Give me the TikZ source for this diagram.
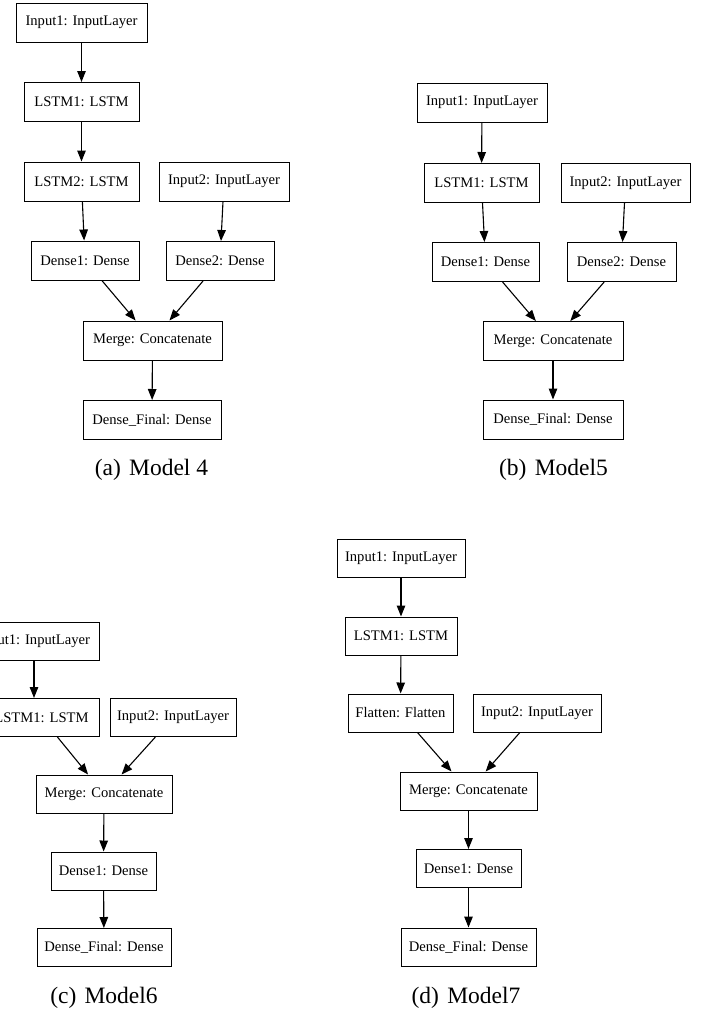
\documentclass[tikz,border=0pt]{standalone}
\usepackage{fontspec}
\setmainfont{Liberation Serif}
\usetikzlibrary{arrows.meta}
\tikzset{layer/.style={draw,line width=1pt,inner sep=0pt,minimum height=39pt,font=\fontsize{14.6}{17}\selectfont},
  flow/.style={-{Triangle[length=11pt,width=8.5pt]},line width=1.1pt},
  subcap/.style={font=\fontsize{23.5}{28}\selectfont}}
\begin{document}
\begin{tikzpicture}[x=1pt,y=-1pt]
\useasboundingbox (0,0) rectangle (706,1013);
\clip (0,0) rectangle (706,1013);
\node[layer,minimum width=131pt] (aIn1) at (81.5,22.5) {Input1: InputLayer};
\node[layer,minimum width=115pt] (aLstm1) at (81.5,102) {LSTM1: LSTM};
\node[layer,minimum width=115pt] (aLstm2) at (81.5,181.5) {LSTM2: LSTM};
\node[layer,minimum width=130pt] (aIn2) at (224,181.5) {Input2: InputLayer};
\node[layer,minimum width=108pt] (aDen1) at (85,260.5) {Dense1: Dense};
\node[layer,minimum width=108pt] (aDen2) at (220,261) {Dense2: Dense};
\node[layer,minimum width=139pt] (aMerge) at (152.5,340.5) {Merge: Concatenate};
\node[layer,minimum width=138pt] (aFinal) at (152,420) {Dense\_Final: Dense};
\draw[flow] (aIn1) -- (aLstm1);
\draw[flow] (aLstm1) -- (aLstm2);
\draw[flow] (aLstm2) -- (aDen1);
\draw[flow] (aIn2) -- (aDen2);
\draw[flow] (aDen1) -- (aMerge);
\draw[flow] (aDen2) -- (aMerge);
\draw[flow] (aMerge) -- (aFinal);
\node[subcap] (aCap) at (151.5,470) {(a)\hspace{0.35em}Model 4};
\node[layer,minimum width=130pt] (bIn1) at (482,102.5) {Input1: InputLayer};
\node[layer,minimum width=115pt] (bLstm1) at (481.5,183) {LSTM1: LSTM};
\node[layer,minimum width=129pt] (bIn2) at (625.5,183) {Input2: InputLayer};
\node[layer,minimum width=107pt] (bDen1) at (485.5,262) {Dense1: Dense};
\node[layer,minimum width=109pt] (bDen2) at (621.5,262) {Dense2: Dense};
\node[layer,minimum width=140pt] (bMerge) at (553,341) {Merge: Concatenate};
\node[layer,minimum width=140pt] (bFinal) at (553,419.5) {Dense\_Final: Dense};
\draw[flow] (bIn1) -- (bLstm1);
\draw[flow] (bLstm1) -- (bDen1);
\draw[flow] (bIn2) -- (bDen2);
\draw[flow] (bDen1) -- (bMerge);
\draw[flow] (bDen2) -- (bMerge);
\draw[flow] (bMerge) -- (bFinal);
\node[subcap] (bCap) at (553.5,470) {(b)\hspace{0.35em}Model5};
\begin{scope}[every node/.append style={font=\fontsize{14.2}{17}\selectfont}]
\node[layer,minimum width=130pt,minimum height=38pt] (cIn1) at (34,641) {Input1: InputLayer};
\node[layer,minimum width=115pt,minimum height=38pt] (cLstm1) at (41.5,717.5) {LSTM1: LSTM};
\node[layer,minimum width=126pt,minimum height=38pt] (cIn2) at (173,717.5) {Input2: InputLayer};
\node[layer,minimum width=136pt,minimum height=38pt] (cMerge) at (104,794) {Merge: Concatenate};
\node[layer,minimum width=105pt,minimum height=38pt] (cDen1) at (103.5,871) {Dense1: Dense};
\node[layer,minimum width=134pt,minimum height=38pt] (cFinal) at (104,947.5) {Dense\_Final: Dense};
\node[layer,minimum width=128pt,minimum height=38pt] (dIn1) at (401,558) {Input1: InputLayer};
\node[layer,minimum width=112pt,minimum height=38pt] (dLstm1) at (401,636) {LSTM1: LSTM};
\node[layer,minimum width=105pt,minimum height=38pt] (dFlat) at (400.5,713) {Flatten: Flatten};
\node[layer,minimum width=128pt,minimum height=38pt] (dIn2) at (537,713) {Input2: InputLayer};
\node[layer,minimum width=137pt,minimum height=38pt] (dMerge) at (468.5,791) {Merge: Concatenate};
\node[layer,minimum width=105pt,minimum height=38pt] (dDen1) at (468.5,868.5) {Dense1: Dense};
\node[layer,minimum width=135pt,minimum height=38pt] (dFinal) at (468.5,947) {Dense\_Final: Dense};
\end{scope}
\draw[flow] (cIn1) -- (cIn1 |- cLstm1.north);
\draw[flow] (cLstm1) -- (cMerge);
\draw[flow] (cIn2) -- (cMerge);
\draw[flow] (cMerge) -- (cDen1);
\draw[flow] (cDen1) -- (cFinal);
\node[subcap] (cCap) at (104,998) {(c)\hspace{0.35em}Model6};
\draw[flow] (dIn1) -- (dLstm1);
\draw[flow] (dLstm1) -- (dFlat);
\draw[flow] (dFlat) -- (dMerge);
\draw[flow] (dIn2) -- (dMerge);
\draw[flow] (dMerge) -- (dDen1);
\draw[flow] (dDen1) -- (dFinal);
\node[subcap] (dCap) at (466,998) {(d)\hspace{0.35em}Model7};
\end{tikzpicture}
\end{document}
